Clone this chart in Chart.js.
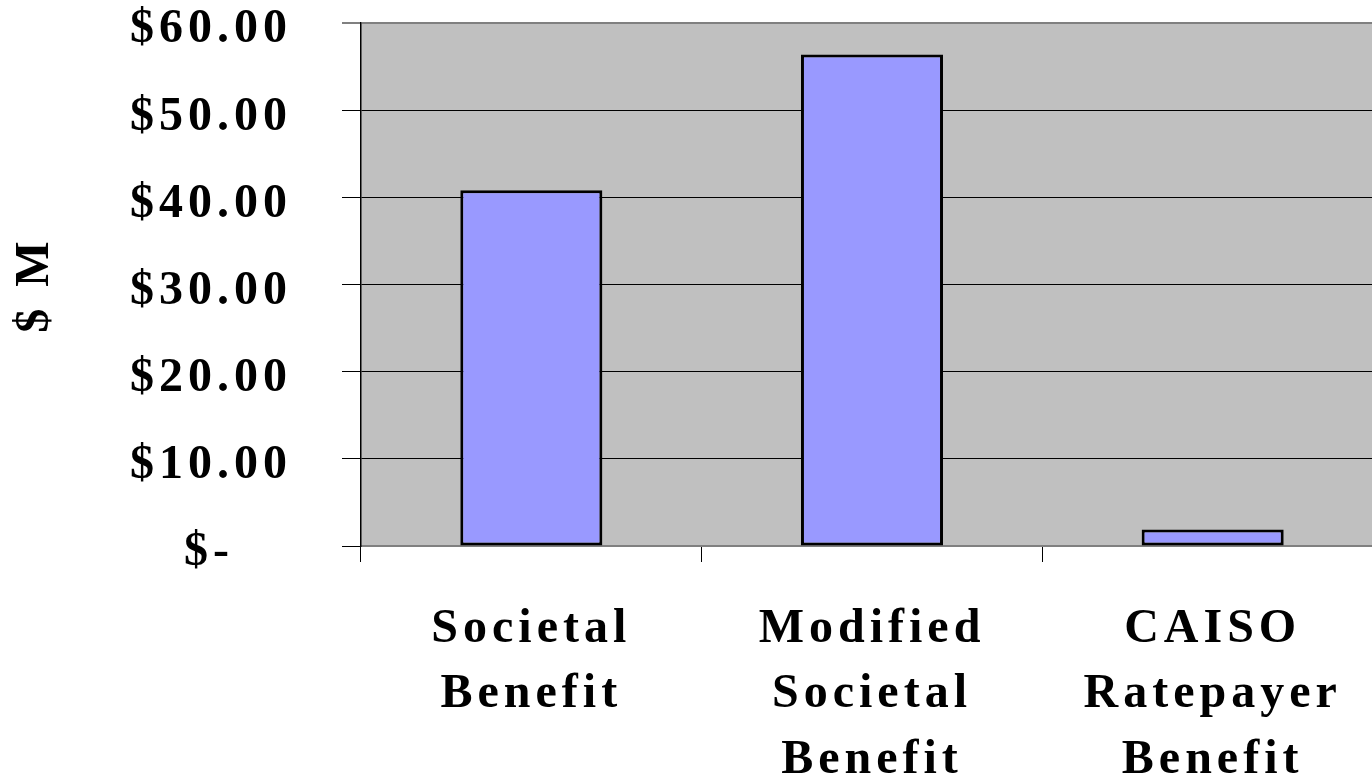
<!DOCTYPE html>
<html>
<head>
<meta charset="utf-8">
<script src="https://cdn.jsdelivr.net/npm/chart.js@4"></script>
<style>
  html, body { margin: 0; padding: 0; background: #fff; overflow: hidden; }
  #wrap { width: 1395px; height: 778px; }
</style>
</head>
<body>
<div id="wrap"><canvas id="benefitChart"></canvas></div>
<script>
// 데이터
const categories = [
	['Societal', 'Benefit'],
	['Modified', 'Societal', 'Benefit'],
	['CAISO', 'Ratepayer', 'Benefit']
];
const benefitValues = [40.8, 56.4, 1.9];
const yTicks = [0, 10, 20, 30, 40, 50, 60];
const yTitle = '$ M';

const serif = 'Liberation Serif';

// 플롯 영역 배경 + 글자 간격
const plotBg = {
	id: 'plotBg',
	beforeDraw(chart) {
		const { ctx, chartArea } = chart;
		ctx.save();
		ctx.fillStyle = '#c0c0c0';
		ctx.fillRect(chartArea.left, chartArea.top, chartArea.right - chartArea.left, chartArea.bottom - chartArea.top);
		ctx.restore();
		ctx.letterSpacing = '5px';
	}
};

new Chart(document.getElementById('benefitChart'), {
	type: 'bar',
	data: {
		labels: categories,
		datasets: [{
			data: benefitValues,
			backgroundColor: '#9999ff',
			borderColor: '#000000',
			borderWidth: 3,
			borderSkipped: false,
			categoryPercentage: 1,
			barPercentage: 0.417
		}]
	},
	options: {
		responsive: true,
		maintainAspectRatio: false,
		animation: false,
		layout: {
			padding: { top: 23, right: 12, left: 0, bottom: 0 }
		},
		plugins: {
			legend: { display: false },
			tooltip: { enabled: false }
		},
		scales: {
			x: {
				offset: true,
				afterFit(scale) {
					scale.height = 232;
				},
				grid: {
					offset: true,
					drawOnChartArea: false,
					drawTicks: true,
					tickLength: 16,
					color: '#000000'
				},
				border: { display: true, color: '#808080', width: 2 },
				ticks: {
					color: '#000000',
					padding: 35,
					maxRotation: 0,
					autoSkip: false,
					font: { family: serif, size: 48, weight: 'bold', lineHeight: 1.36 }
				}
			},
			y: {
				min: 0,
				max: 60,
				afterBuildTicks(scale) {
					scale.ticks = yTicks.map(v => ({ value: v }));
				},
				afterFit(scale) {
					scale.width = 361;
					scale.paddingTop = 0;
					scale.paddingBottom = 0;
				},
				grid: {
					color: (ctx) => ctx.tick && ctx.tick.value === 60 ? '#808080' : '#000000',
					lineWidth: (ctx) => ctx.tick && ctx.tick.value === 60 ? 2 : 1,
					tickLength: 19
				},
				border: { display: true, color: '#000000', width: 1.5 },
				ticks: {
					color: '#000000',
					padding: 50,
					labelOffset: 7,
					font: { family: serif, size: 48, weight: 'bold', lineHeight: 0.9 },
					callback: (v) => v === 0 ? '$-\u2002\u2002' : '$' + v.toFixed(2)
				},
				title: {
					display: true,
					text: yTitle,
					color: '#000000',
					padding: { top: 7, bottom: 0 },
					font: { family: serif, size: 48, weight: 'bold', lineHeight: 1.2 }
				}
			}
		}
	},
	plugins: [plotBg]
});
</script>
</body>
</html>
